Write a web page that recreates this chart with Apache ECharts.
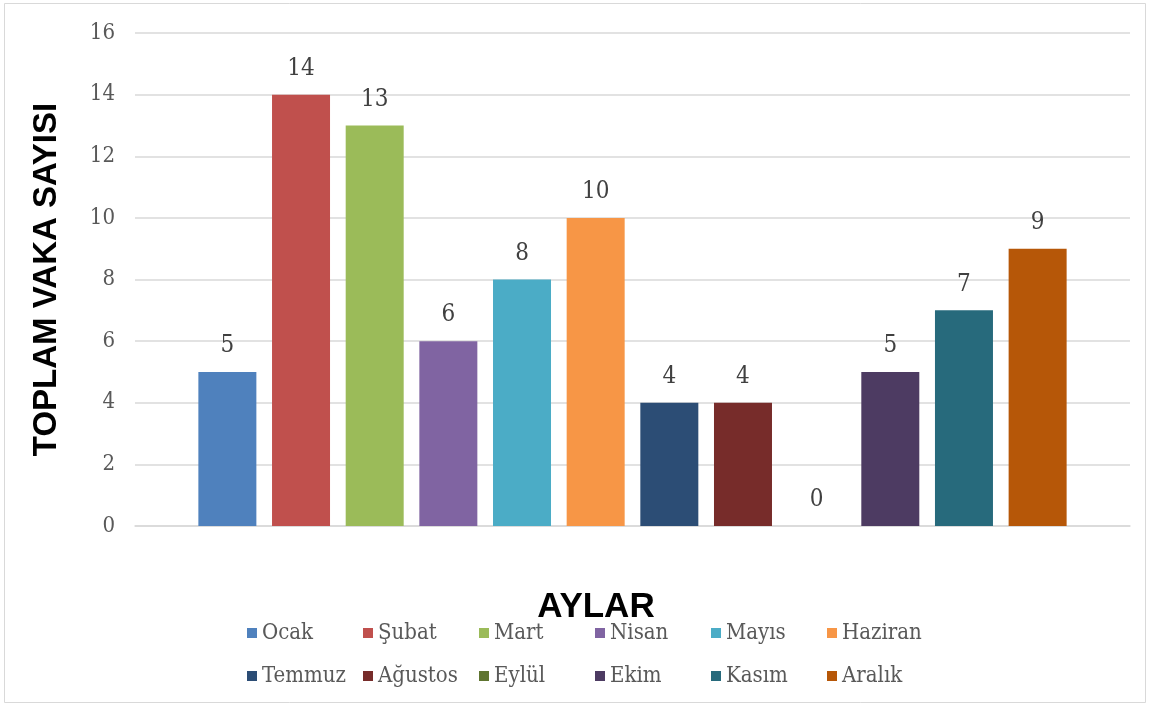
<!DOCTYPE html>
<html>
<head>
<meta charset="utf-8">
<script src="https://cdn.jsdelivr.net/npm/echarts@6/dist/echarts.min.js"></script>
<style>
  html, body { margin: 0; padding: 0; background: #fff; }
  #chart { width: 1149px; height: 706px; }
</style>
</head>
<body>
<div id="chart"></div>
<script>
// Monthly case totals
const months = ['Ocak', 'Şubat', 'Mart', 'Nisan', 'Mayıs', 'Haziran',
                'Temmuz', 'Ağustos', 'Eylül', 'Ekim', 'Kasım', 'Aralık'];
const cases = [5, 14, 13, 6, 8, 10, 4, 4, 0, 5, 7, 9];
const monthColors = ['#4F81BD', '#C0504D', '#9BBB59', '#8064A2', '#4BACC6', '#F79646',
                     '#2C4D75', '#772C2A', '#5F7530', '#4D3B62', '#276A7C', '#B65708'];
const yTicks = { min: 0, max: 16, step: 2 };
const yTitle = 'TOPLAM VAKA SAYISI';
const xTitle = 'AYLAR';

const serif = "'DejaVu Serif Condensed', 'DejaVu Serif', serif";
const heavy = "'Liberation Sans', Arial, sans-serif";

const chart = echarts.init(document.getElementById('chart'));

const series = months.map((m, i) => ({
  name: m,
  type: 'bar',
  data: [cases[i]],
  barWidth: 58,
  barGap: '27%',
  itemStyle: { color: monthColors[i] },
  label: {
    show: true,
    position: 'top',
    distance: 14,
    color: '#404040',
    fontFamily: serif,
    fontSize: 24
  }
}));

function legendRow(names, top) {
  return {
    data: names,
    top: top,
    left: 242,
    orient: 'horizontal',
    itemWidth: 10,
    itemHeight: 10,
    itemGap: 0,
    icon: 'rect',
    formatter: n => '{t|' + n + '}',
    textStyle: {
      color: '#595959',
      fontFamily: serif,
      fontSize: 22,
      rich: {
        t: { width: 101, fontFamily: serif, fontSize: 22, color: '#595959', lineHeight: 24 }
      }
    }
  };
}

chart.setOption({
  animation: false,
  backgroundColor: '#fff',
  grid: { left: 135, right: 19, top: 33, bottom: 180 },
  xAxis: {
    type: 'category',
    data: [''],
    axisLine: { lineStyle: { color: '#d9d9d9', width: 1.5 } },
    axisTick: { show: false },
    axisLabel: { show: false }
  },
  yAxis: {
    type: 'value',
    min: yTicks.min,
    max: yTicks.max,
    interval: yTicks.step,
    name: yTitle,
    nameLocation: 'middle',
    nameGap: 72,
    nameTextStyle: {
      fontFamily: heavy,
      fontWeight: 900,
      fontSize: 33,
      color: '#000'
    },
    axisLine: { show: false },
    axisTick: { show: false },
    axisLabel: {
      margin: 20,
      color: '#595959',
      fontFamily: serif,
      fontSize: 22
    },
    splitLine: { lineStyle: { color: '#d9d9d9', width: 1.5 } }
  },
  legend: [
    legendRow(months.slice(0, 6), 617),
    legendRow(months.slice(6), 660)
  ],
  graphic: [
    {
      type: 'rect',
      shape: { x: 4.5, y: 3.5, width: 1141, height: 699 },
      style: { fill: 'none', stroke: '#d9d9d9', lineWidth: 1 },
      silent: true
    },
    {
      type: 'text',
      x: 596,
      y: 607,
      style: {
        text: xTitle,
        fill: '#000',
        font: '900 35px ' + heavy,
        align: 'center',
        verticalAlign: 'middle'
      },
      silent: true
    }
  ],
  series: series
});
</script>
</body>
</html>
